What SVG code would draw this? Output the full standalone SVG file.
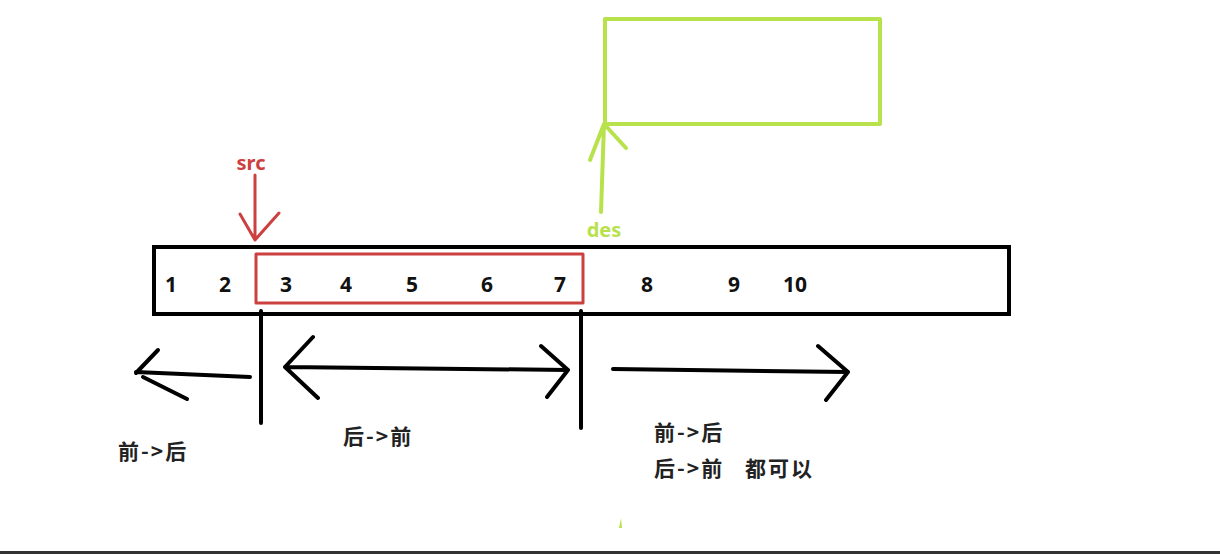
<svg xmlns="http://www.w3.org/2000/svg" width="1220" height="554" viewBox="0 0 1220 554">
<style>
.num{font-family:"Noto Sans","Liberation Sans",sans-serif;font-weight:bold;font-size:21px;fill:#111;text-anchor:middle}
.cn{font-family:"Noto Sans CJK SC","Noto Sans",sans-serif;font-weight:bold;font-size:21px;letter-spacing:2px;fill:#222}
.blk{stroke:#000;stroke-width:4;fill:none;stroke-linecap:round;stroke-linejoin:round}
.red{stroke:#cc4040;stroke-width:3;fill:none;stroke-linecap:round;stroke-linejoin:round}
.grn{stroke:#b7e24c;stroke-width:4;fill:none;stroke-linecap:round;stroke-linejoin:round}
</style>
<rect width="1220" height="554" fill="#fff"/>
<g id="array">
<rect x="154" y="247" width="855" height="67" fill="none" stroke="#000" stroke-width="4"/>
<text class="num" x="171" y="292">1</text>
<text class="num" x="225" y="292">2</text>
<text class="num" x="286" y="292">3</text>
<text class="num" x="346" y="292">4</text>
<text class="num" x="412" y="292">5</text>
<text class="num" x="487" y="292">6</text>
<text class="num" x="560" y="292">7</text>
<text class="num" x="647" y="292">8</text>
<text class="num" x="734" y="292">9</text>
<text class="num" x="795" y="292">10</text>
</g>
<g id="src-range">
<rect x="256" y="254" width="327" height="49" class="red"/>
</g>
<g id="src">
<text x="251" y="170" font-family="'Noto Sans','Liberation Sans',sans-serif" font-weight="bold" font-size="20" fill="#cc4040" text-anchor="middle">src</text>
</g>
<g id="des-box">
<rect x="605" y="19" width="275" height="105" class="grn"/>
</g>
<g id="des">
<text x="604" y="237" font-family="'Noto Sans','Liberation Sans',sans-serif" font-weight="bold" font-size="20" fill="#b7e24c" text-anchor="middle">des</text>
</g>
<g id="connectors">
<path class="red" d="M255 175 V240 M240 214 L255 240 L279 213"/>
<path class="grn" d="M601 212 L604 124 M590 160 L604 124 L626 148"/>
<path class="blk" d="M261 311 V423 M581 311 V428"/>
<path class="blk" d="M250 377 L136 372 M158 350 L136 373 M143 377 L187 399"/>
<path class="blk" d="M285 367 L568 370 M313 337 L285 367 L318 398 M541 346 L568 370 L547 397"/>
<path class="blk" d="M613 369 L848 372 M818 346 L848 372 L826 400"/>
</g>
<g id="labels">
<text class="cn" x="118" y="459">前-&gt;后</text>
<text class="cn" x="343" y="444">后-&gt;前</text>
<text class="cn" x="654" y="440">前-&gt;后</text>
<text class="cn" x="654" y="476">后-&gt;前</text>
<text class="cn" x="745" y="476">都可以</text>
</g>
<path d="M619 528 L621 518 L622 528 Z" fill="#b7e24c"/>
<rect x="0" y="551" width="1220" height="3" fill="#333"/>
</svg>
